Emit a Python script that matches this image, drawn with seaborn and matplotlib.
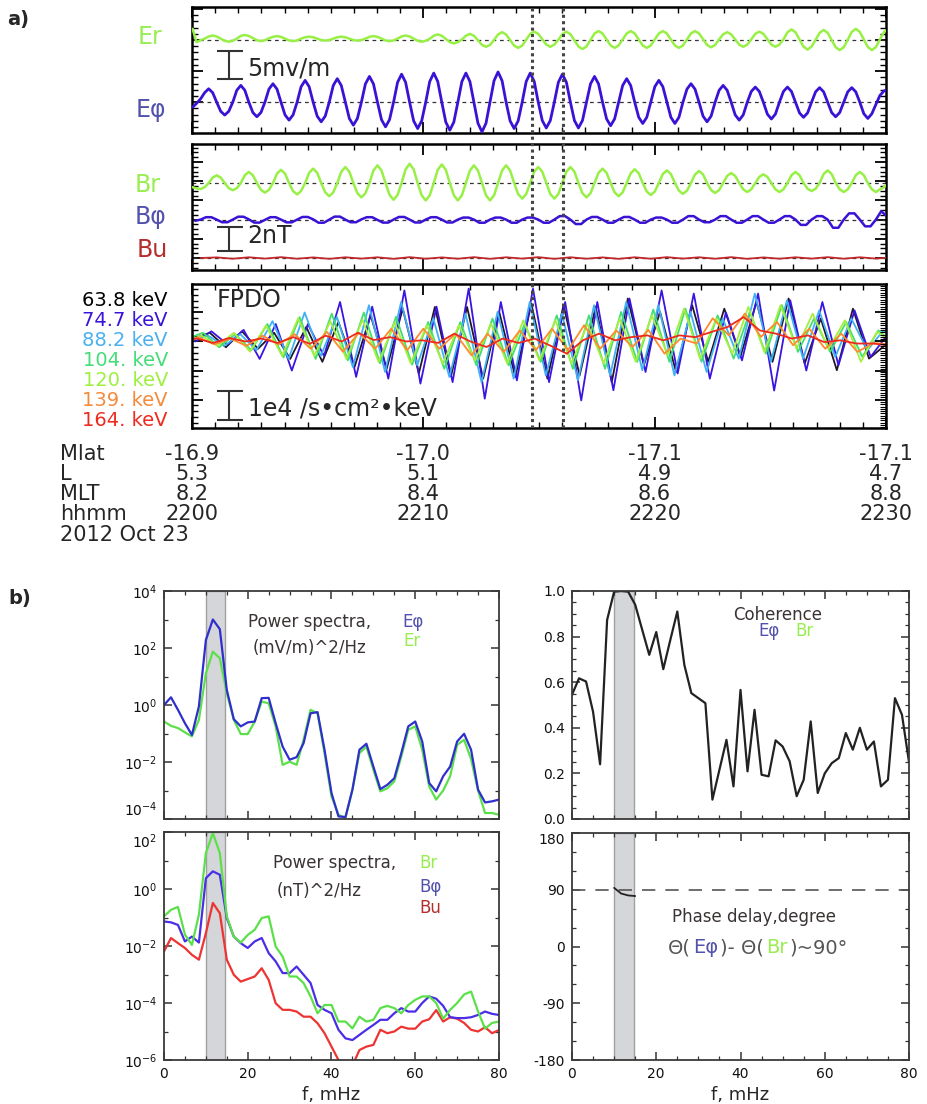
import numpy as np
import matplotlib
matplotlib.use("Agg")
import matplotlib.pyplot as plt
from matplotlib.ticker import (MultipleLocator, FixedLocator, FixedFormatter,
                               NullFormatter, FormatStrFormatter)
from matplotlib.transforms import blended_transform_factory
import seaborn as sns

# ------------------------------------------------------------------
# Van Allen Probe field and particle data, 2012 Oct 23, 2200-2230 UT
# times are minutes after 2200 UT
# ------------------------------------------------------------------
WAVE_PERIOD = 1.39               # min, period of the ULF wave
WAVE_DT = WAVE_PERIOD / 8        # sample spacing of Er, Ephi, Br
WAVE_T0 = 0.025                  # first sample time
BPHI_DT = WAVE_PERIOD / 6        # sample spacing of Bphi
BPHI_T0 = 0.72 - 2.5 * BPHI_DT

# E field (mV/m)
e_phi = [-0.9, -0.2, 0.6, 1.7,
         2.4, 1.7, 0.0, -1.63, -2.3, -1.63, 0.0, 2.13,
         3.0, 2.13, 0.0, -1.85, -2.6, -1.85, 0.0, 2.34,
         3.3, 2.34, 0.0, -2.27, -3.2, -2.27, 0.0, 2.77,
         3.9, 2.77, 0.0, -2.49, -3.5, -2.49, 0.0, 2.98,
         4.2, 2.98, 0.0, -2.91, -4.1, -2.91, 0.0, 3.27,
         4.6, 3.27, 0.0, -3.12, -4.4, -3.12, 0.0, 3.55,
         5.0, 3.55, 0.0, -3.34, -4.7, -3.34, 0.0, 3.69,
         5.2, 3.69, 0.0, -3.55, -5.0, -3.55, 0.0, 3.69,
         5.2, 3.69, 0.0, -3.76, -5.3, -3.76, 0.0, 3.83,
         5.4, 3.83, 0.0, -3.34, -4.7, -3.34, 0.0, 3.69,
         5.2, 3.69, 0.0, -3.27, -4.6, -3.27, 0.0, 3.55,
         5.0, 3.55, 0.0, -3.27, -4.6, -3.27, 0.0, 3.27,
         4.6, 3.27, 0.0, -2.98, -4.2, -2.98, 0.0, 2.98,
         4.2, 2.98, 0.0, -2.7, -3.8, -2.7, 0.0, 2.77,
         3.9, 2.77, 0.0, -2.7, -3.8, -2.7, 0.0, 2.34,
         3.3, 2.34, 0.0, -2.49, -3.5, -2.49, 0.0, 2.13,
         3.0, 2.13, 0.0, -2.27, -3.2, -2.27, 0.0, 1.92,
         2.7, 1.92, 0.0, -2.13, -3.0, -2.13, 0.0, 1.92,
         2.7, 1.92, 0.0, -1.92, -2.7, -1.92, 0.0, 1.85,
         2.6, 1.85, 0.0, -1.85, -2.6, -1.85, 0.0, 1.85,
         2.6, 1.85, 0.0, -2.06, -2.9, -2.06, -0.4, 1.2,
         2.0, 2.3]

e_r = [2.0, -0.4, 0.0, 0.25, 0.64,
       0.8, 0.64, 0.25, -0.14, -0.3, -0.14, 0.25, 0.74,
       0.9, 0.74, 0.35, -0.04, -0.2, -0.04, 0.3, 0.57,
       0.7, 0.57, 0.25, -0.07, -0.2, -0.07, 0.25, 0.5,
       0.6, 0.5, 0.25, 0.0, -0.1, 0.0, 0.25, 0.5,
       0.6, 0.5, 0.25, 0.0, -0.1, 0.0, 0.25, 0.57,
       0.7, 0.57, 0.25, -0.07, -0.2, -0.07, 0.25, 0.64,
       0.8, 0.64, 0.25, -0.14, -0.3, -0.14, 0.22, 0.77,
       1.0, 0.77, 0.2, -0.37, -0.6, -0.37, 0.1, 0.77,
       1.1, 0.77, -0.05, -0.87, -1.2, -0.87, 0.0, 0.99,
       1.4, 0.99, 0.0, -0.99, -1.4, -0.99, 0.05, 1.11,
       1.5, 1.11, 0.15, -0.81, -1.2, -0.81, 0.05, 1.05,
       1.5, 1.05, -0.05, -1.15, -1.6, -1.15, 0.0, 1.17,
       1.6, 1.17, 0.1, -0.97, -1.4, -0.97, 0.1, 1.17,
       1.6, 1.17, 0.1, -0.97, -1.4, -0.97, 0.1, 1.17,
       1.6, 1.17, 0.1, -0.97, -1.4, -0.97, 0.12, 1.18,
       1.6, 1.18, 0.15, -0.88, -1.3, -0.88, 0.12, 1.02,
       1.4, 1.02, 0.1, -0.82, -1.2, -0.82, 0.12, 1.11,
       1.5, 1.11, 0.15, -0.81, -1.2, -0.81, 0.12, 1.38,
       1.9, 1.38, 0.1, -1.18, -1.7, -1.18, 0.05, 1.28,
       1.8, 1.28, 0.0, -1.28, -1.8, -1.28, 0.05, 1.45,
       2.0, 1.45, 0.1, -1.25, -1.8, -1.25, 0.1, 1.4,
       2.0]

# B field (nT)
b_r = [-0.35, -0.45, -0.5, -0.35, 0.0, 0.45,
       0.64, 0.45, 0.0, -0.43, -0.6, -0.43, 0.0, 0.65,
       0.92, 0.65, 0.0, -0.57, -0.8, -0.57, 0.0, 0.78,
       1.1, 0.78, 0.0, -0.67, -0.95, -0.67, 0.0, 0.85,
       1.2, 0.85, 0.0, -0.78, -1.1, -0.78, 0.0, 0.94,
       1.33, 0.94, 0.0, -0.85, -1.2, -0.85, 0.0, 1.04,
       1.47, 1.04, 0.0, -0.99, -1.4, -0.99, 0.0, 1.14,
       1.6, 1.14, 0.0, -1.03, -1.45, -1.03, 0.0, 1.1,
       1.55, 1.1, 0.0, -1.03, -1.45, -1.03, 0.0, 1.04,
       1.47, 1.04, 0.0, -1.03, -1.45, -1.03, 0.0, 1.04,
       1.47, 1.04, 0.0, -0.92, -1.3, -0.92, 0.0, 0.94,
       1.33, 0.94, 0.0, -0.92, -1.3, -0.92, 0.0, 0.94,
       1.33, 0.94, 0.0, -0.85, -1.2, -0.85, 0.0, 0.85,
       1.2, 0.85, 0.0, -0.78, -1.1, -0.78, 0.0, 0.81,
       1.14, 0.81, 0.0, -0.71, -1.0, -0.71, 0.0, 0.75,
       1.05, 0.75, 0.0, -0.64, -0.9, -0.64, 0.0, 0.71,
       1.0, 0.71, 0.0, -0.59, -0.83, -0.59, 0.0, 0.59,
       0.83, 0.59, 0.0, -0.53, -0.75, -0.53, 0.0, 0.51,
       0.72, 0.51, 0.0, -0.53, -0.75, -0.53, 0.0, 0.65,
       0.92, 0.65, 0.0, -0.48, -0.67, -0.48, 0.0, 0.75,
       1.05, 0.75, 0.0, -0.53, -0.75, -0.53, 0.0, 0.65,
       0.92, 0.65, 0.0, -0.53, -0.75, -0.53, -0.35, -0.05]

b_phi = [-0.1, 0.0, 0.2,
         0.2, 0.0, -0.22, -0.22, 0.0, 0.24,
         0.24, 0.02, -0.25, -0.25, -0.02, 0.2,
         0.2, 0.0, -0.23, -0.23, 0.0, 0.22,
         0.22, 0.02, -0.26, -0.26, 0.0, 0.25,
         0.25, 0.0, -0.22, -0.22, 0.02, 0.2,
         0.2, -0.02, -0.25, -0.25, 0.0, 0.22,
         0.22, 0.0, -0.24, -0.24, 0.0, 0.2,
         0.2, 0.0, -0.24, -0.24, 0.0, 0.17,
         0.17, 0.0, -0.26, -0.26, 0.0, 0.17,
         0.17, 0.0, -0.26, -0.26, 0.0, 0.17,
         0.17, 0.0, -0.26, -0.26, 0.0, 0.29,
         0.29, 0.0, -0.37, -0.37, 0.0, 0.22,
         0.22, 0.0, -0.26, -0.26, 0.0, 0.22,
         0.22, 0.0, -0.26, -0.26, 0.0, 0.17,
         0.17, 0.0, -0.26, -0.26, 0.0, 0.29,
         0.29, 0.0, -0.22, -0.22, 0.0, 0.29,
         0.29, 0.0, -0.26, -0.26, 0.0, 0.29,
         0.29, 0.0, -0.26, -0.26, 0.0, 0.29,
         0.29, 0.0, -0.44, -0.44, 0.0, 0.29,
         0.29, 0.0, -0.68, -0.68, 0.0, 0.52,
         0.52, 0.0, -0.56, -0.56, 0.0, 0.7,
         0.3, -0.1]

# compressional component, one value per half wave period
HALF_PERIOD = WAVE_PERIOD / 2
BU_T0 = 0.72 + 0.35 - HALF_PERIOD
b_u = [0.0, 0.05, -0.06, 0.06, -0.05, 0.07, -0.06, 0.05, -0.07, 0.06,
       -0.05, 0.06, -0.07, 0.07, -0.06, 0.05, -0.06, 0.07, -0.07, 0.06,
       -0.05, 0.07, -0.07, 0.06, -0.06, 0.05, -0.07, 0.06, -0.06, 0.07,
       -0.05, 0.06, -0.06, 0.07, -0.07, 0.05, -0.06, 0.06, -0.05, 0.07,
       -0.06, 0.06, -0.05, 0.05, -0.04]

ER_OFFSET = 11.1     # mV/m, stacking offset of Er above Ephi
BPHI_OFFSET = 3.2    # nT
BR_OFFSET = 6.25     # nT

# FPDO proton flux perturbations (1e4 /s cm^2 keV), half-period extrema
energy_labels = ["63.8 keV", "74.7 keV", "88.2 keV", "104. keV",
                 "120. keV", "139. keV", "164. keV"]
flux_63p8 = [0.1, 0.3, -0.2, 0.35, -0.25, 0.3, -0.6, 0.5, -0.7, 0.67, -0.88, 0.9,
             -0.94, 1.13, -1.1, 1.19, -1.2, 1.19, -1.28, 1.02, -1.22, 1.3, -1.28,
             1.25, -1.17, 1.2, -1.4, 1.48, -0.82, 1.02, -1.05, 1.25, -0.7, 1.13,
             -0.53, 1.36, -0.7, 1.48, -0.76, 0.79, -0.99, 1.13, -0.59, -0.13, -0.1]
flux_74p7 = [0.0, 0.35, -0.1, 0.4, -0.6, 0.6, -1.0, 0.6, -0.5, 1.36, -1.22, 1.2,
             -1.28, 1.76, -1.45, 1.2, -1.4, 1.82, -1.97, 1.36, -1.34, 1.82, -1.4,
             1.36, -2.03, 1.36, -1.68, 1.48, -1.05, 1.76, -1.1, 1.65, -1.28, 1.0,
             -0.65, 1.65, -1.69, 1.42, -1.0, 1.36, -0.82, 1.07, -0.53, 0.2, 0.0]
flux_88p2 = [0.05, 0.2, -0.15, 0.25, -0.3, 0.7, -0.6, 1.0, -0.5, 0.85, -0.88, 1.25,
             -1.05, 1.36, -0.82, 0.8, -1.22, 0.96, -1.4, 1.02, -1.28, 1.36, -1.17,
             0.96, -1.34, 1.25, -1.17, 1.36, -0.99, 1.25, -1.17, 1.02, -1.05, 0.79,
             -0.59, 1.65, -0.7, 1.42, -0.59, 1.07, -0.53, 0.79, -0.3, 0.38, 0.1]
flux_104 = [0.1, 0.3, -0.2, 0.25, -0.3, 0.6, -0.55, 0.84, -0.6, 0.96, -0.65, 1.0,
            -0.75, 0.85, -0.8, 0.67, -0.94, 0.67, -0.82, 0.79, -0.82, 0.61, -0.7,
            0.9, -0.94, 0.9, -0.94, 1.02, -0.7, 1.1, -0.7, 1.13, -0.7, 0.9, -0.59,
            1.02, -0.42, 1.25, -0.36, 0.79, -0.36, 0.67, -0.53, 0.38, -0.1]
flux_120 = [0.0, 0.2, -0.15, 0.3, -0.35, 0.55, -0.5, 0.8, -0.5, 0.7, -0.6, 0.75,
            -0.7, 0.65, -0.75, 0.56, -0.76, 0.56, -0.65, 0.61, -0.76, 0.73, -0.65,
            0.73, -0.76, 0.61, -0.76, 0.79, -0.7, 0.9, -0.48, 1.13, -0.59, 0.79,
            -0.42, 1.19, -0.36, 1.25, -0.25, 0.96, -0.25, 0.73, -0.7, 0.33, 0.0]
flux_139 = [-0.1, 0.15, -0.1, 0.1, -0.15, 0.2, -0.1, 0.25, -0.25, 0.33, -0.35, 0.3,
            -0.25, 0.44, -0.3, 0.44, -0.25, 0.27, -0.48, 0.27, -0.36, 0.38, -0.3,
            0.44, -0.3, 0.56, -0.25, 0.38, -0.19, 0.4, -0.42, 0.1, -0.07, 0.8, 0.21,
            0.96, 0.16, 0.67, -0.13, 0.44, -0.25, 0.27, -0.36, -0.05, -0.1]
flux_164 = [0.05, 0.1, -0.05, 0.12, 0.0, 0.1, -0.05, 0.15, -0.08, 0.2, 0.0, 0.3,
            0.05, 0.15, 0.0, 0.04, -0.05, 0.27, 0.0, -0.19, 0.1, -0.05, 0.1, -0.15,
            -0.42, 0.04, 0.27, 0.04, 0.15, 0.21, 0.04, 0.21, 0.15, 0.33, 0.5, 0.84,
            0.38, 0.27, 0.1, 0.21, -0.02, 0.04, -0.07, -0.07, -0.13]
flux_lag = [0.05, 0.12, -0.02, -0.24, -0.30, -0.45, -0.50]   # min, relative to Ephi

# orbit information rows
ORBIT_T = [0, 10, 20, 30]
mlat_labels = ["-16.9", "-17.0", "-17.1", "-17.1"]
l_labels = ["5.3", "5.1", "4.9", "4.7"]
mlt_labels = ["8.2", "8.4", "8.6", "8.8"]
hhmm_labels = ["2200", "2210", "2220", "2230"]
WAVE_MARKERS = [14.7, 16.04]

# spectra, 1.667 mHz resolution, log10 of power
FREQ_STEP = 5.0 / 3.0
ephi_psd_log = [0.0, 0.27, -0.17, -0.64, -1.05, -0.05, 2.28, 3.0, 2.66, 0.53,
                -0.5, -0.75, -0.61, -0.58, 0.24, 0.25, -0.64, -1.46, -1.92, -1.83,
                -1.34, -0.29, -0.25, -1.57, -3.09, -3.91, -3.93, -2.97, -1.57, -1.36,
                -2.16, -2.95, -2.8, -2.57, -1.69, -0.75, -0.58, -1.28, -2.74, -3.03,
                -2.5, -2.16, -1.28, -1.01, -1.57, -2.97, -3.42, -3.38, -3.32]
er_psd_log = [-0.58, -0.73, -0.81, -0.96, -1.1, -0.52, 1.11, 1.87, 1.64, 0.41,
              -0.52, -1.02, -1.02, -0.58, 0.12, 0.06, -0.75, -2.1, -1.99, -2.1,
              -1.22, -0.17, -0.29, -1.69, -3.21, -3.85, -3.97, -2.97, -1.69, -1.46,
              -2.27, -3.03, -2.92, -2.68, -1.81, -0.87, -0.75, -1.57, -2.86, -3.32,
              -3.0, -2.5, -1.4, -1.22, -1.9, -3.0, -3.79, -3.79, -3.85]
br_psd_log = [-0.96, -0.73, -0.63, -1.6, -1.96, -0.9, 1.26, 1.96, 1.26, -0.96,
              -1.67, -1.88, -1.61, -1.43, -1.02, -0.96, -2.02, -2.37, -3.07, -3.07,
              -3.3, -3.77, -4.36, -4.07, -4.07, -4.65, -4.65, -4.89, -4.48, -4.65,
              -4.59, -4.18, -4.1, -4.18, -4.36, -4.07, -3.89, -3.77, -3.77, -4.0,
              -4.55, -4.24, -4.0, -3.7, -3.6, -4.3, -4.9, -4.7, -4.65]
bphi_psd_log = [-1.14, -1.17, -1.26, -1.84, -1.67, -1.88, 0.38, 0.62, 0.5, -1.02,
                -1.67, -1.9, -2.07, -1.84, -1.72, -2.25, -2.54, -2.95, -2.95, -2.72,
                -3.01, -3.3, -4.07, -4.24, -4.36, -4.94, -5.24, -5.3, -5.12, -4.94,
                -4.77, -4.59, -4.59, -4.36, -4.18, -4.3, -4.3, -4.0, -3.77, -3.85,
                -4.1, -4.5, -4.53, -4.53, -4.5, -4.42, -4.3, -4.38, -4.42]
bu_psd_log = [-2.19, -1.72, -1.9, -2.07, -2.31, -2.48, -1.55, -0.49, -0.85, -2.48,
              -3.01, -3.25, -3.16, -3.07, -2.78, -3.19, -4.01, -4.24, -4.24, -4.3,
              -4.48, -4.48, -4.71, -5.06, -5.53, -6.0, -6.3, -6.2, -5.65, -5.53,
              -5.47, -4.94, -5.06, -5.0, -4.83, -4.9, -4.9, -4.65, -4.57, -4.25,
              -4.65, -4.5, -4.55, -4.7, -4.94, -5.0, -4.85, -5.06, -4.95]
coherence = [0.545, 0.617, 0.603, 0.47, 0.24, 0.873, 0.997, 1.0, 0.997, 0.94,
             0.83, 0.72, 0.82, 0.657, 0.785, 0.91, 0.676, 0.552, 0.53, 0.508,
             0.085, 0.216, 0.347, 0.143, 0.566, 0.209, 0.479, 0.194, 0.187, 0.345,
             0.318, 0.253, 0.1, 0.172, 0.428, 0.114, 0.2, 0.245, 0.267, 0.377,
             0.304, 0.4, 0.304, 0.34, 0.143, 0.172, 0.53, 0.457, 0.25]
phase_freq = [10.0, 11.67, 13.33, 15.0]
phase_deg = [93, 84, 81, 80]
PHASE_REF = 90
BAND = (10.0, 14.6)   # mHz, wave band

# ------------------------------------------------------------------
# colours
# ------------------------------------------------------------------
GREEN = "#98f046"
VIOLET = "#3a12d6"
BU_RED = "#c0282a"
LBL_GREEN = "#98ee50"
LBL_BLUE = "#5252ae"
LBL_RED = "#b3302e"
flux_colors = ["#22162a", "#3a14e0", "#40b0f5", "#40e06c", "#a6ef3e", "#ff8a2e", "#ee2a1e"]
flux_label_colors = ["#000000", "#3a14d8", "#4ab0f0", "#44dd77", "#9ef040", "#f58a3a", "#ee2a1e"]
PSD_GREEN = "#5ce04a"
PSD_BLUE = "#2f2fcc"
PSD_VIOLET = "#4a2ee6"
PSD_RED = "#ee3333"
TXT_DARK = "#3a3333"

# ------------------------------------------------------------------
sns.set_style("ticks")
plt.rcParams["font.family"] = ["DejaVu Sans"]
plt.rcParams["mathtext.default"] = "regular"
plt.rcParams["axes.unicode_minus"] = False

W, H = 928, 1104
fig = plt.figure(figsize=(W / 100, H / 100), dpi=100)


def rect(x0, y0, x1, y1):
    return [x0 / W, 1 - y1 / H, (x1 - x0) / W, (y1 - y0) / H]


def ftext(x, y, s, **kw):
    kw.setdefault("va", "baseline")
    return fig.text(x / W, 1 - y / H, s, **kw)


def grid(n, t0, dt):
    return t0 + dt * np.arange(n)


def style_a(ax, ylim, ymajor, yminor):
    ax.set_xlim(0, 30)
    ax.set_ylim(*ylim)
    ax.xaxis.set_major_locator(MultipleLocator(10))
    ax.xaxis.set_minor_locator(MultipleLocator(1))
    ax.yaxis.set_major_locator(FixedLocator(ymajor))
    ax.yaxis.set_minor_locator(MultipleLocator(yminor))
    ax.tick_params(which="both", direction="in", top=True, right=True,
                   labelbottom=False, labelleft=False, color="black")
    ax.tick_params(which="major", length=8, width=1.3)
    ax.tick_params(which="minor", length=4, width=1.0)
    for s in ax.spines.values():
        s.set_linewidth(1.8)
        s.set_color("black")
    ax.set_xlabel("")
    ax.set_ylabel("")


def scale_bar(ax, y0, length):
    kw = dict(color="#333333", lw=1.5, solid_capstyle="butt")
    ax.plot([1.6, 1.6], [y0, y0 + length], **kw)
    ax.plot([1.08, 2.2], [y0, y0], **kw)
    ax.plot([1.08, 2.2], [y0 + length, y0 + length], **kw)


DASH = dict(color="#333333", lw=0.9, ls=(0, (3, 3)), zorder=1)
WAVE_KW = dict(solid_joinstyle="round", solid_capstyle="round", zorder=3)

# ---------------- a) E field ----------------
ax1 = fig.add_axes(rect(192, 7, 886, 133))
ax1.axhline(ER_OFFSET, **DASH)
ax1.axhline(0.0, **DASH)
sns.lineplot(x=grid(len(e_r), WAVE_T0, WAVE_DT), y=np.asarray(e_r) + ER_OFFSET,
             ax=ax1, color=GREEN, lw=1.8, **WAVE_KW)
sns.lineplot(x=grid(len(e_phi), WAVE_T0, WAVE_DT), y=np.asarray(e_phi),
             ax=ax1, color=VIOLET, lw=2.0, **WAVE_KW)
scale_bar(ax1, 4.14, 5.0)
style_a(ax1, (-5.5, 17.0), [-5.55, 0, 5.55, 11.1, 16.65], 1.11)

# ---------------- a) B field ----------------
ax2 = fig.add_axes(rect(192, 144, 886, 270))
for base in (BR_OFFSET, BPHI_OFFSET, 0.0):
    ax2.axhline(base, **DASH)
sns.lineplot(x=grid(len(b_r), WAVE_T0, WAVE_DT), y=np.asarray(b_r) + BR_OFFSET,
             ax=ax2, color=GREEN, lw=1.8, **WAVE_KW)
sns.lineplot(x=grid(len(b_phi), BPHI_T0, BPHI_DT), y=np.asarray(b_phi) + BPHI_OFFSET,
             ax=ax2, color=VIOLET, lw=1.8, **WAVE_KW)
sns.lineplot(x=grid(len(b_u), BU_T0, HALF_PERIOD), y=np.asarray(b_u),
             ax=ax2, color=BU_RED, lw=1.3, **WAVE_KW)
scale_bar(ax2, 0.58, 2.0)
style_a(ax2, (-1.0, 9.5), [0, 1.6, 3.2, 4.8, 6.4, 8.0], 0.4)

# ---------------- a) FPDO fluxes ----------------
ax3 = fig.add_axes(rect(192, 284, 886, 428))
flux_series = [flux_63p8, flux_74p7, flux_88p2, flux_104, flux_120, flux_139, flux_164]
for vals, lag, col in zip(flux_series, flux_lag, flux_colors):
    t = grid(len(vals), 0.72 + lag - HALF_PERIOD, HALF_PERIOD)
    sns.lineplot(x=t, y=vals, ax=ax3, color=col, lw=1.3)
scale_bar(ax3, -2.7, 1.0)
style_a(ax3, (-2.98, 1.98), [-2, -1, 0, 1], 0.2)
ax3.tick_params(right=False, which="both")
ax3r = ax3.twinx()
ax3r.set_ylim(-2.98, 1.98)
ax3r.yaxis.set_major_locator(MultipleLocator(1))
ax3r.yaxis.set_minor_locator(MultipleLocator(0.08))
ax3r.tick_params(which="both", direction="in", labelright=False, color="black")
ax3r.tick_params(which="major", length=8, width=1.3)
ax3r.tick_params(which="minor", length=4, width=0.8)
for s in ax3r.spines.values():
    s.set_visible(False)

# dotted markers spanning all three panels
axv = fig.add_axes(rect(192, 7, 886, 428), facecolor="none")
axv.set_xlim(0, 30)
axv.set_ylim(0, 1)
axv.axis("off")
for t in WAVE_MARKERS:
    axv.axvline(t, color="#444444", lw=2.2, ls=(0, (1, 1.1)))

# ---------------- a) labels ----------------
A_FS = 17
ROW_FS = 14
ftext(7, 25, "a)", fontsize=14, fontweight="bold")
ftext(150, 44, "Er", fontsize=A_FS, color=LBL_GREEN, ha="center")
ftext(151, 117, "E\u03c6", fontsize=A_FS, color=LBL_BLUE, ha="center")
ftext(148, 192, "Br", fontsize=A_FS, color=LBL_GREEN, ha="center")
ftext(151, 224, "B\u03c6", fontsize=A_FS, color=LBL_BLUE, ha="center")
ftext(152, 257, "Bu", fontsize=A_FS, color=LBL_RED, ha="center")
ftext(247, 75, "5mv/m", fontsize=A_FS)
ftext(247, 243, "2nT", fontsize=A_FS)
ftext(217, 307, "FPDO", fontsize=A_FS)
ftext(248, 415, "1e4 /s\u2022cm\u00b2\u2022keV", fontsize=A_FS)
for lbl, col, yb in zip(energy_labels, flux_label_colors, [306, 326, 346, 366, 386, 406, 426]):
    ftext(168, yb, lbl, fontsize=ROW_FS, color=col, ha="right")

tr = blended_transform_factory(ax3.transData, fig.transFigure)
rows = [("Mlat", mlat_labels, 460), ("L", l_labels, 480),
        ("MLT", mlt_labels, 500), ("hhmm", hhmm_labels, 520)]
for name, vals, yb in rows:
    ftext(60, yb, name, fontsize=ROW_FS + 1)
    for t, v in zip(ORBIT_T, vals):
        ax3.text(t, 1 - yb / H, v, transform=tr, ha="center", va="baseline",
                 fontsize=ROW_FS + 1, clip_on=False)
ftext(60, 541, "2012 Oct 23", fontsize=ROW_FS + 1)

# ---------------- b) spectra ----------------
freq = FREQ_STEP * np.arange(len(ephi_psd_log))


def style_b(ax):
    ax.set_xlim(0, 80)
    ax.xaxis.set_major_locator(MultipleLocator(20))
    ax.xaxis.set_minor_locator(MultipleLocator(5))
    ax.tick_params(which="both", direction="in", top=True, right=True,
                   color="#333333", labelsize=10, labelcolor="#111111")
    ax.tick_params(which="major", length=6, width=1.1, pad=5)
    ax.tick_params(which="minor", length=3, width=0.9)
    for s in ax.spines.values():
        s.set_linewidth(1.3)
        s.set_color("#3a3a3a")
    ax.set_xlabel("")
    ax.set_ylabel("")
    ax.axvspan(*BAND, facecolor="#d5d6d9", edgecolor="#a0a0a0", lw=1.0, zorder=0)


def log_axis(ax, lo, hi):
    ax.set_yscale("log")
    ax.set_ylim(10.0 ** lo, 10.0 ** hi)
    major = list(range(lo, hi + 1, 2))
    ax.yaxis.set_major_locator(FixedLocator([10.0 ** e for e in major]))
    ax.yaxis.set_major_formatter(FixedFormatter([rf"$10^{{{e}}}$" for e in major]))
    ax.yaxis.set_minor_locator(FixedLocator([10.0 ** e for e in range(lo + 1, hi, 2)]))
    ax.yaxis.set_minor_formatter(NullFormatter())


axL1 = fig.add_axes(rect(164, 591, 499, 819))
sns.lineplot(x=freq, y=10.0 ** np.asarray(er_psd_log), ax=axL1, color=PSD_GREEN, lw=1.6)
sns.lineplot(x=freq, y=10.0 ** np.asarray(ephi_psd_log), ax=axL1, color=PSD_BLUE, lw=1.6)
style_b(axL1)
log_axis(axL1, -4, 4)
axL1.tick_params(labelbottom=False)

axL2 = fig.add_axes(rect(164, 832, 499, 1060))
sns.lineplot(x=freq, y=10.0 ** np.asarray(bu_psd_log), ax=axL2, color=PSD_RED, lw=1.6)
sns.lineplot(x=freq, y=10.0 ** np.asarray(bphi_psd_log), ax=axL2, color=PSD_VIOLET, lw=1.6)
sns.lineplot(x=freq, y=10.0 ** np.asarray(br_psd_log), ax=axL2, color=PSD_GREEN, lw=1.6)
style_b(axL2)
log_axis(axL2, -6, 2)
axL2.set_xlabel("f, mHz", fontsize=13, labelpad=4)

axR1 = fig.add_axes(rect(572, 591, 909, 819))
sns.lineplot(x=freq, y=coherence, ax=axR1, color="#222222", lw=1.6)
style_b(axR1)
axR1.set_ylim(0, 1)
axR1.yaxis.set_major_locator(MultipleLocator(0.2))
axR1.yaxis.set_minor_locator(MultipleLocator(0.05))
axR1.yaxis.set_major_formatter(FormatStrFormatter("%.1f"))
axR1.tick_params(labelbottom=False)

axR2 = fig.add_axes(rect(572, 833, 909, 1060))
axR2.axhline(PHASE_REF, color="#555555", lw=1.2, ls=(0, (8, 6)))
sns.lineplot(x=phase_freq, y=phase_deg, ax=axR2, color="#222222", lw=1.3)
style_b(axR2)
axR2.set_ylim(-180, 180)
axR2.yaxis.set_major_locator(FixedLocator([-180, -90, 0, 90, 180]))
axR2.yaxis.set_minor_locator(MultipleLocator(30))
axR2.set_xlabel("f, mHz", fontsize=13, labelpad=4)

# keep the labels at the shared panel edges apart
axL1.yaxis.get_major_ticks()[0].label1.set_verticalalignment("bottom")
axL2.yaxis.get_major_ticks()[-1].label1.set_verticalalignment("top")
axR1.yaxis.get_major_ticks()[0].label1.set_verticalalignment("bottom")
axR2.yaxis.get_major_ticks()[-1].label1.set_verticalalignment("top")

# ---------------- b) labels ----------------
ftext(8, 604, "b)", fontsize=14, fontweight="bold")
B_FS = 12
ftext(248, 627, "Power spectra,", fontsize=B_FS, color=TXT_DARK)
ftext(253, 653, "(mV/m)^2/Hz", fontsize=B_FS, color=TXT_DARK)
ftext(402, 627, "E\u03c6", fontsize=B_FS, color=LBL_BLUE)
ftext(403, 646, "Er", fontsize=B_FS, color=LBL_GREEN)

ftext(273, 868, "Power spectra,", fontsize=B_FS, color=TXT_DARK)
ftext(277, 896, "(nT)^2/Hz", fontsize=B_FS, color=TXT_DARK)
ftext(419, 868, "Br", fontsize=B_FS, color=LBL_GREEN)
ftext(419, 892, "B\u03c6", fontsize=B_FS, color=LBL_BLUE)
ftext(419, 913, "Bu", fontsize=B_FS, color=LBL_RED)

ftext(778, 620, "Coherence", fontsize=B_FS, color=TXT_DARK, ha="center")
ftext(769, 636, "E\u03c6", fontsize=B_FS, color=LBL_BLUE, ha="center")
ftext(805, 636, "Br", fontsize=B_FS, color=LBL_GREEN, ha="center")

ftext(672, 922, "Phase delay,degree", fontsize=B_FS, color=TXT_DARK)

renderer = fig.canvas.get_renderer()
x_cursor = 668
for piece, col in [("\u0398(", "#555555"), ("E\u03c6", LBL_BLUE),
                   (")- \u0398(", "#555555"), ("Br", LBL_GREEN),
                   (")~90\u00b0", "#555555")]:
    t = ftext(x_cursor, 953, piece, fontsize=14, color=col)
    x_cursor += t.get_window_extent(renderer=renderer).width + 2

fig.savefig("out.png", dpi=100)
